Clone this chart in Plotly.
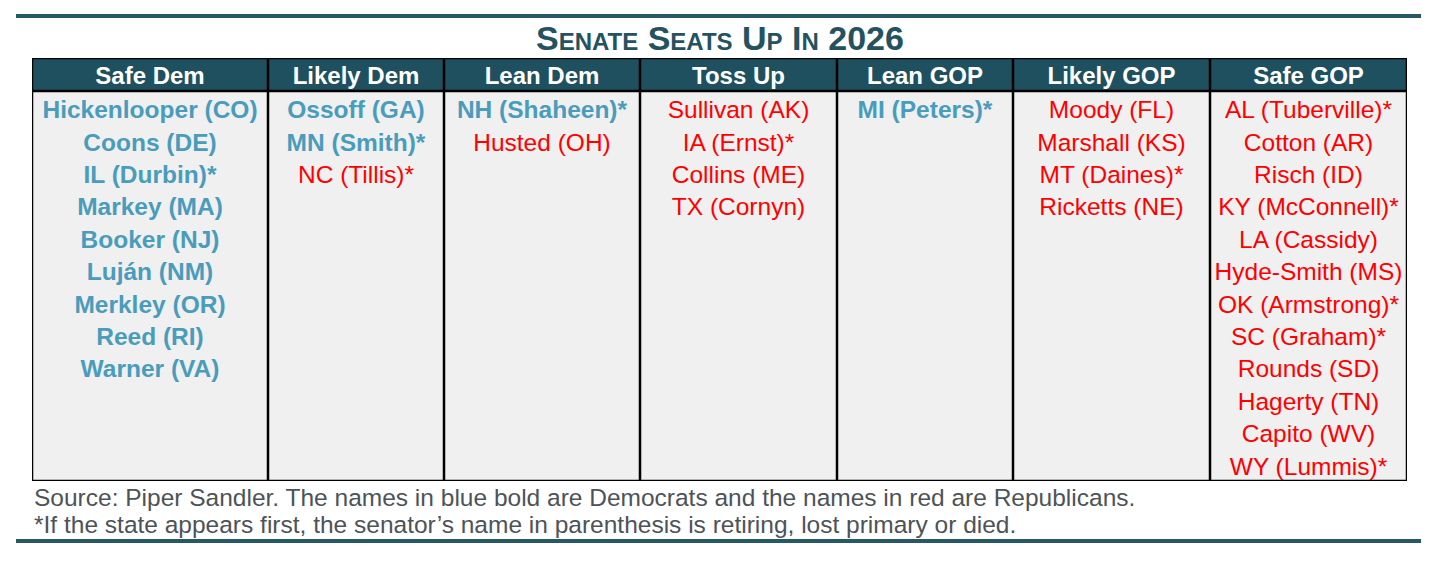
import plotly.graph_objects as go

# Categorias (colunas) e seus senadores
categorias = ["Safe Dem", "Likely Dem", "Lean Dem", "Toss Up", "Lean GOP", "Likely GOP", "Safe GOP"]

safe_dem = ["Hickenlooper (CO)", "Coons (DE)", "IL (Durbin)*", "Markey (MA)", "Booker (NJ)",
            "Luján (NM)", "Merkley (OR)", "Reed (RI)", "Warner (VA)"]
likely_dem = ["Ossoff (GA)", "MN (Smith)*", "NC (Tillis)*"]
lean_dem = ["NH (Shaheen)*", "Husted (OH)"]
toss_up = ["Sullivan (AK)", "IA (Ernst)*", "Collins (ME)", "TX (Cornyn)"]
lean_gop = ["MI (Peters)*"]
likely_gop = ["Moody (FL)", "Marshall (KS)", "MT (Daines)*", "Ricketts (NE)"]
safe_gop = ["AL (Tuberville)*", "Cotton (AR)", "Risch (ID)", "KY (McConnell)*", "LA (Cassidy)",
            "Hyde-Smith (MS)", "OK (Armstrong)*", "SC (Graham)*", "Rounds (SD)", "Hagerty (TN)",
            "Capito (WV)", "WY (Lummis)*"]

# Partido de cada nome (D = democrata, R = republicano)
partido_safe_dem = ["D"] * 9
partido_likely_dem = ["D", "D", "R"]
partido_lean_dem = ["D", "R"]
partido_toss_up = ["R", "R", "R", "R"]
partido_lean_gop = ["D"]
partido_likely_gop = ["R", "R", "R", "R"]
partido_safe_gop = ["R"] * 12

colunas = [safe_dem, likely_dem, lean_dem, toss_up, lean_gop, likely_gop, safe_gop]
partidos = [partido_safe_dem, partido_likely_dem, partido_lean_dem, partido_toss_up,
            partido_lean_gop, partido_likely_gop, partido_safe_gop]

# Larguras das colunas (px)
larguras = [236, 176, 196, 197, 176, 197, 197]
bordas = [0]
for w in larguras:
    bordas.append(bordas[-1] + w)
centros = [(bordas[i] + bordas[i + 1]) / 2 for i in range(len(larguras))]

FONTE = "Liberation Sans, Arial, sans-serif"
AZUL = "#4a9cbc"
VERMELHO = "#ff0000"
CABECALHO = "#1f5060"

fig = go.Figure()

# Separando nomes por partido
xd, yd, td, xr, yr, tr = [], [], [], [], [], []
for i, (nomes, parts) in enumerate(zip(colunas, partidos)):
    for j, (n, p) in enumerate(zip(nomes, parts)):
        if p == "D":
            xd.append(centros[i]); yd.append(j); td.append(n)
        else:
            xr.append(centros[i]); yr.append(j); tr.append(n)

# eixo y em unidades de linha (32.4 px por linha)
y_topo = -1.667
y_cab = -0.648
y_base = 11.389

# Fundo do corpo e cabeçalho
fig.add_shape(type="rect", x0=0, x1=bordas[-1], y0=y_cab, y1=y_base,
              fillcolor="#f0f0f0", line_width=0, layer="below")
fig.add_shape(type="rect", x0=0, x1=bordas[-1], y0=y_topo, y1=y_cab,
              fillcolor=CABECALHO, line_width=0, layer="below")
# Linhas das colunas
for b in bordas:
    fig.add_shape(type="line", x0=b, x1=b, y0=y_topo, y1=y_base,
                  line=dict(color="black", width=2.5))
for yy in [y_topo, y_cab, y_base]:
    fig.add_shape(type="line", x0=0, x1=bordas[-1], y0=yy, y1=yy,
                  line=dict(color="black", width=2.5))

fig.add_trace(go.Scatter(x=xd, y=yd, text=td, mode="text", hoverinfo="skip",
                         textfont=dict(family=FONTE, size=24.5, color=AZUL, weight="bold")))
fig.add_trace(go.Scatter(x=xr, y=yr, text=tr, mode="text", hoverinfo="skip",
                         textfont=dict(family=FONTE, size=24.5, color=VERMELHO)))
fig.add_trace(go.Scatter(x=centros, y=[-1.06] * len(categorias), text=categorias, mode="text",
                         hoverinfo="skip",
                         textfont=dict(family=FONTE, size=24, color="white", weight="bold")))

# Título e notas
fig.add_annotation(text="Senate Seats Up In 2026", xref="paper", yref="paper",
                   x=0.5, y=1.0, yshift=20, yanchor="middle", showarrow=False,
                   font=dict(family=FONTE, size=34, color="#24535f", weight="bold", variant="small-caps"))
fig.add_annotation(text="Source: Piper Sandler. The names in blue bold are Democrats and the names in red are Republicans.",
                   xref="paper", yref="paper", x=0, y=0, yshift=-16, xanchor="left", yanchor="middle",
                   showarrow=False, font=dict(family=FONTE, size=24.5, color="#4d5359"))
fig.add_annotation(text="*If the state appears first, the senator’s name in parenthesis is retiring, lost primary or died.",
                   xref="paper", yref="paper", x=0, y=0, yshift=-43, xanchor="left", yanchor="middle",
                   showarrow=False, font=dict(family=FONTE, size=24.5, color="#4d5359"))

# Linhas horizontais superior e inferior
for yp in [16, 541]:
    fig.add_shape(type="line", xref="paper", yref="paper",
                  x0=-16 / 1375, x1=1389 / 1375,
                  y0=(481 - yp) / 423, y1=(481 - yp) / 423,
                  line=dict(color="#265868", width=4))

fig.update_xaxes(range=[0, bordas[-1]], visible=False, fixedrange=True)
fig.update_yaxes(range=[y_base, y_topo], visible=False, fixedrange=True)
# a página tem margem de 8px no body
fig.update_layout(width=1431, height=557, margin=dict(l=24, r=32, t=50, b=84),
                  plot_bgcolor="white", paper_bgcolor="white", showlegend=False)

fig.write_html("out.html")
